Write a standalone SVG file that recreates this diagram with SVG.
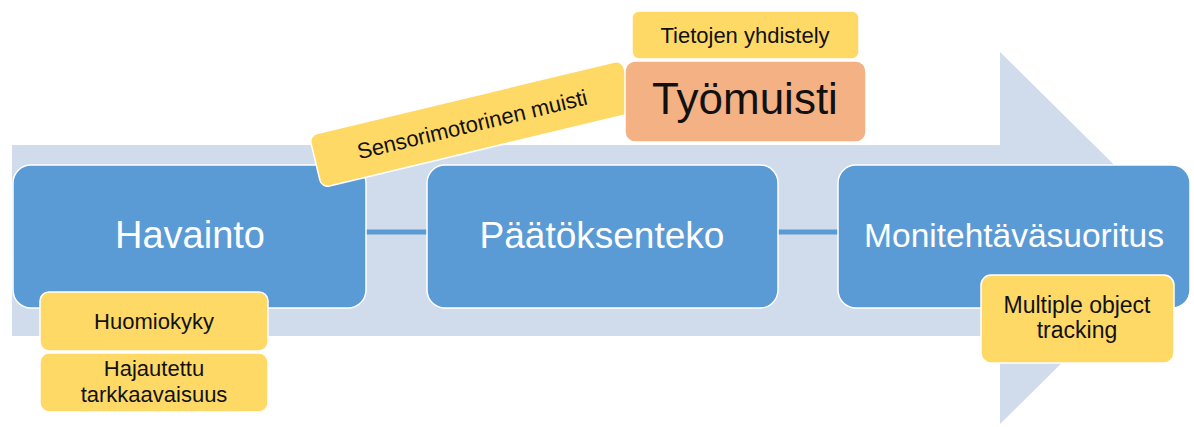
<svg xmlns="http://www.w3.org/2000/svg" width="1194" height="427" viewBox="0 0 1194 427">
  <style>
    text { font-family: "Liberation Sans", Arial, sans-serif; text-anchor: middle; }
    .blue { fill: #5B9BD5; stroke: #FFFFFF; stroke-width: 1.5; }
    .yellow { fill: #FFD966; stroke: #FFFFFF; stroke-width: 1.5; }
    .orange { fill: #F4B183; stroke: #FFFFFF; stroke-width: 1.5; }
    .big { fill: #FFFFFF; font-size: 38px; }
    .small { fill: #111111; font-size: 22px; }
    .conn { stroke: #5B9BD5; stroke-width: 5; fill: none; }
  </style>
  <rect width="1194" height="427" fill="#FFFFFF"/>
  <g id="background-arrow">
    <polygon points="12,145 1000,145 1000,52 1188,238 1000,424 1000,336 12,336" fill="#D0DBEB"/>
  </g>
  <g id="connectors">
    <line class="conn" x1="366" y1="232" x2="427" y2="232"/>
    <line class="conn" x1="778" y1="232" x2="838" y2="232"/>
  </g>
  <g id="havainto">
    <rect class="blue" x="13" y="165" width="353" height="143" rx="18"/>
    <text class="big" x="190" y="248">Havainto</text>
  </g>
  <g id="paatoksenteko">
    <rect class="blue" x="427" y="165" width="351" height="143" rx="18"/>
    <text class="big" x="602" y="248" style="font-size:37px">Päätöksenteko</text>
  </g>
  <g id="monitehtavasuoritus">
    <rect class="blue" x="838" y="165" width="352" height="143" rx="18"/>
    <text class="big" x="1014" y="247" style="font-size:33.5px">Monitehtäväsuoritus</text>
  </g>
  <g id="huomiokyky">
    <rect class="yellow" x="40" y="292" width="228" height="59" rx="9"/>
    <text class="small" x="154" y="329">Huomiokyky</text>
  </g>
  <g id="hajautettu">
    <rect class="yellow" x="40" y="353" width="228" height="59" rx="9"/>
    <text class="small" x="154" y="376">Hajautettu</text>
    <text class="small" x="154" y="402">tarkkaavaisuus</text>
  </g>
  <g id="multiple-object-tracking">
    <rect class="yellow" x="981" y="275" width="193" height="88" rx="10"/>
    <text class="small" x="1077" y="313" style="font-size:23px">Multiple object</text>
    <text class="small" x="1077" y="338" style="font-size:23px">tracking</text>
  </g>
  <g id="sensorimotorinen-muisti" transform="translate(472,124) rotate(-13.5)">
    <rect class="yellow" x="-161" y="-27" width="322" height="54" rx="8"/>
    <text class="small" x="0" y="8">Sensorimotorinen muisti</text>
  </g>
  <g id="tietojen-yhdistely">
    <rect class="yellow" x="632" y="11" width="227" height="48" rx="7"/>
    <text class="small" x="745" y="43">Tietojen yhdistely</text>
  </g>
  <g id="tyomuisti">
    <rect class="orange" x="625" y="61" width="241" height="81" rx="10"/>
    <text class="small" x="745" y="114" style="font-size:44px">Työmuisti</text>
  </g>
</svg>
